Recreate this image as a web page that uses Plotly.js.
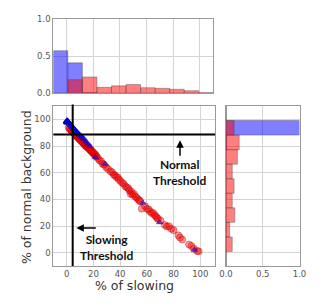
<!DOCTYPE html>
<html><head><meta charset="utf-8">
<script src="https://cdn.plot.ly/plotly-3.0.1.min.js"></script>
<style>html,body{margin:0;padding:0;background:#fff}#chart{width:327px;height:307px}</style>
</head><body><div id="chart"></div>
<script>
// ---- data ----
var redX = [1.5, 2.2, 3.0, 3.6, 4.1, 4.8, 5.3, 5.9, 6.4, 6.8, 7.3, 7.9, 8.4, 9.0, 9.6, 10.2, 10.9, 11.5,
  12.0, 12.6, 13.1, 13.5, 14.0, 14.6, 15.0, 15.5, 16.1, 16.5, 17.0, 17.6, 18.1, 18.5, 19.0, 19.6, 20.1, 20.6, 21.0, 21.5, 22.0, 22.5,
  23.4, 24.6, 25.8, 26.9, 28.0, 29.5, 31.0, 32.8,
  34.0, 35.2, 36.1, 37.0, 38.3, 39.0, 40.2, 41.5, 42.6, 43.8,
  45.0, 46.1, 46.9, 47.8, 48.5, 49.2, 50.4, 51.3, 52.4, 53.5, 54.3, 55.1,
  56.2, 58.6, 60.1, 61.5, 62.4, 63.6, 64.8, 65.9,
  66.8, 67.7, 68.4, 70.3, 73.5, 75.0, 76.6,
  78.2, 80.0, 83.6, 84.8, 86.5,
  91.6, 93.4, 95.2, 97.6, 98.8];
var redY = [93.8, 93.0, 92.1, 91.7, 91.0, 90.3, 89.9, 89.2, 88.9, 88.0, 87.6, 87.0, 86.3, 85.8, 85.1, 84.4, 83.9, 83.2,
  82.6, 82.4, 81.2, 81.7, 80.4, 79.8, 80.1, 79.0, 78.5, 78.9, 77.6, 77.0, 76.8, 75.9, 76.2, 74.8, 74.9, 74.0, 73.1, 73.6, 72.4, 72.0,
  70.8, 69.2, 68.6, 66.6, 66.0, 64.1, 62.7, 61.0,
  60.3, 58.6, 58.0, 56.9, 56.4, 55.0, 53.8, 52.5, 51.6, 49.8,
  49.0, 48.3, 46.8, 44.1, 45.6, 43.5, 44.0, 42.1, 41.2, 40.0, 39.3, 38.4,
  33.0, 35.0, 32.9, 32.4, 30.9, 29.6, 29.8, 28.1,
  27.2, 26.0, 25.3, 24.1, 20.8, 19.6, 19.9,
  18.0, 16.9, 13.0, 11.4, 9.8,
  6.1, 5.0, 3.0, 1.2, 1.0];
var blueX = [0.1, 0.2, 0.2, 0.3, 0.3, 0.4, 0.4, 0.5, 0.5, 0.5, 0.6, 0.6, 0.6, 0.7, 0.7, 0.7, 0.8, 0.8, 0.8, 0.3, 0.5, 0.6, 0.4, 0.7, 0.2, 0.8, 0.5, 0.6, 0.3,
  1.2, 1.6, 2.0, 2.5, 2.9, 3.3, 3.8, 4.2, 4.7, 5.1, 5.6, 6.0, 6.6, 7.1, 7.7, 8.2, 8.8, 9.4, 10.1, 10.8, 11.5,
  12.4, 13.3, 14.6, 15.8,
  17.5, 21.4, 28.7, 57.0, 69.5, 95.7];
var blueY = [98.9, 98.8, 98.4, 98.7, 98.1, 98.5, 97.9, 98.6, 98.2, 97.7, 98.4, 97.9, 98.8, 98.0, 97.6, 98.5, 98.1, 97.7, 98.6, 99.0, 98.9, 98.3, 97.8, 98.8, 98.2, 98.3, 98.0, 97.5, 98.6,
  97.9, 97.6, 97.0, 96.4, 95.9, 95.6, 94.9, 94.4, 93.9, 93.3, 92.7, 92.4, 91.7, 91.0, 90.4, 89.9, 89.2, 88.6, 88.0, 87.4, 86.7,
  85.9, 84.8, 83.3, 81.5,
  80.0, 71.5, 66.5, 37.2, 22.7, 2.2];

// histogram bins (centres of 11 bins spanning -10..110) and bar heights (fraction of group)
var binCenters = [-4.55, 6.36, 17.27, 28.18, 39.09, 50.0, 60.91, 71.82, 82.73, 93.64, 104.55];
var slowingBlue = [0.574, 0.41, 0.01, 0, 0, 0, 0, 0, 0, 0, 0];
var slowingRed  = [0, 0.184, 0.22, 0.08, 0.10, 0.117, 0.076, 0.067, 0.054, 0.036, 0.008];
var normalBlue  = [0, 0, 0, 0, 0, 0, 0, 0, 0.01, 1.0, 0];
var normalRed   = [0, 0.085, 0.05, 0.12, 0.085, 0.11, 0.085, 0.155, 0.18, 0.11, 0];

var slowingThreshold = 4.5;
var normalThreshold = 88.7;

var mainTicks = [0, 20, 40, 60, 80, 100];
var histTicks = [0, 0.5, 1.0];

// ---- styles ----
var BLUE = 'rgba(0,0,255,0.5)', RED = 'rgba(255,0,0,0.5)';
var edge = {color: 'rgba(60,60,60,0.35)', width: 1};
var binW = 10.909;
var tickFont = {family: 'DejaVu Sans', size: 8.5, color: '#555'};
var titleFont = {family: 'DejaVu Sans', size: 12.5, color: '#333'};

var traces = [
  {type: 'scatter', mode: 'markers', x: redX, y: redY, xaxis: 'x', yaxis: 'y',
   marker: {symbol: 'circle', size: 7, color: 'rgba(255,0,0,0.42)', line: {color: 'rgba(170,0,0,0.45)', width: 0.8}}},
  {type: 'scatter', mode: 'markers', x: blueX, y: blueY, xaxis: 'x', yaxis: 'y',
   marker: {symbol: 'triangle-up', size: 6, color: 'rgba(0,0,255,0.55)', line: {color: 'rgba(0,0,120,0.6)', width: 0.5}}},
  {type: 'bar', x: binCenters, y: slowingBlue, width: binW, xaxis: 'x2', yaxis: 'y2', marker: {color: BLUE, line: edge}},
  {type: 'bar', x: binCenters, y: slowingRed, width: binW, xaxis: 'x2', yaxis: 'y2', marker: {color: RED, line: edge}},
  {type: 'bar', orientation: 'h', y: binCenters, x: normalBlue, width: binW, xaxis: 'x3', yaxis: 'y3', marker: {color: BLUE, line: edge}},
  {type: 'bar', orientation: 'h', y: binCenters, x: normalRed, width: binW, xaxis: 'x3', yaxis: 'y3', marker: {color: RED, line: edge}}
];

function ax(o) {
  var base = {showgrid: true, gridcolor: '#d4d4d4', gridwidth: 1, zeroline: false,
    showline: true, mirror: true, linecolor: '#999', linewidth: 1,
    ticks: '', tickfont: tickFont, automargin: false};
  for (var k in o) base[k] = o[k];
  return base;
}

var W = 327, H = 307;
var layout = {
  width: W, height: H, margin: {l: 0, r: 0, t: 0, b: 0},
  paper_bgcolor: '#fff', plot_bgcolor: '#fff', showlegend: false, barmode: 'overlay', bargap: 0,
  xaxis: ax({domain: [53.3 / W, 215 / W], range: [-10, 111], tickvals: mainTicks, anchor: 'y'}),
  yaxis: ax({domain: [1 - 266 / H, 1 - 106 / H], range: [-10, 110], tickvals: mainTicks, anchor: 'x'}),
  xaxis2: ax({domain: [53.3 / W, 213.3 / W], range: [-10, 110], tickvals: mainTicks, showticklabels: false, anchor: 'y2'}),
  yaxis2: ax({domain: [1 - 93.3 / H, 1 - 19 / H], range: [0, 1], tickvals: histTicks, tickformat: '.1f', anchor: 'x2'}),
  xaxis3: ax({domain: [226 / W, 299.5 / W], range: [0, 1], tickvals: histTicks, tickformat: '.1f', anchor: 'y3'}),
  yaxis3: ax({domain: [1 - 266 / H, 1 - 106 / H], range: [-10, 110], tickvals: mainTicks, showticklabels: false, anchor: 'x3'}),
  shapes: [
    {type: 'line', xref: 'x', yref: 'y domain', x0: slowingThreshold, x1: slowingThreshold, y0: 0, y1: 1.01,
     line: {color: '#000', width: 2}},
    {type: 'line', xref: 'x domain', yref: 'y', x0: 0, x1: 1, y0: normalThreshold, y1: normalThreshold,
     line: {color: '#000', width: 2}}
  ],
  annotations: [
    {xref: 'paper', yref: 'paper', x: 134 / W, y: 1 - 285 / H, text: '% of slowing', showarrow: false,
     xanchor: 'center', yanchor: 'middle', font: titleFont},
    {xref: 'paper', yref: 'paper', x: 26 / W, y: 1 - 187 / H, text: '% of normal background', showarrow: false,
     textangle: -90, xanchor: 'center', yanchor: 'middle', font: titleFont},
    {xref: 'x', yref: 'y', x: 84.8, y: 60, text: '<b>Normal<br>Threshold</b>', showarrow: false,
     font: {family: 'Lato', size: 12, color: '#111'}},
    {xref: 'x', yref: 'y', x: 84.8, y: 84.3, text: '', showarrow: true, ax: 0, ay: 17,
     arrowhead: 2, arrowsize: 1, arrowwidth: 1.5, arrowcolor: '#000'},
    {xref: 'x', yref: 'y', x: 30.1, y: 4, text: '<b>Slowing<br>Threshold</b>', showarrow: false,
     font: {family: 'Lato', size: 12, color: '#111'}},
    {xref: 'x', yref: 'y', x: 7.2, y: 18.5, text: '', showarrow: true, ax: 21, ay: 0,
     arrowhead: 2, arrowsize: 1, arrowwidth: 1.5, arrowcolor: '#000'}
  ]
};

Plotly.newPlot('chart', traces, layout, {staticPlot: true, displayModeBar: false});
</script></body></html>
